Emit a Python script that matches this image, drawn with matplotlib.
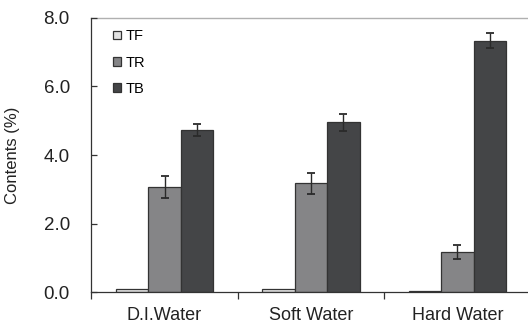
import matplotlib
matplotlib.use('Agg')
import matplotlib.pyplot as plt
import numpy as np

plt.rcParams['font.family'] = ['Liberation Sans', 'DejaVu Sans']

# Contents of each fraction by water type
categories = ['D.I.Water', 'Soft Water', 'Hard Water']
series = ['TF', 'TR', 'TB']
tf = [0.10, 0.10, 0.02]
tr = [3.06, 3.17, 1.17]
tb = [4.73, 4.95, 7.34]
tr_err = [0.32, 0.31, 0.19]
tb_err = [0.18, 0.25, 0.23]

colors = ['#e2e2e2', '#858587', '#444547']

fig = plt.figure(figsize=(5.28, 3.26), dpi=100)
ax = fig.add_axes([0.173, 0.104, 0.832, 0.841])

x = np.arange(len(categories))
w = 0.222
vals = [tf, tr, tb]
errs = [None, tr_err, tb_err]
for i, (name, v, e) in enumerate(zip(series, vals, errs)):
    ax.bar(x + (i - 1) * w, v, width=w, color=colors[i], edgecolor='#333333',
           linewidth=0.9, label=name, zorder=2)
    if e is not None:
        ax.errorbar(x + (i - 1) * w, v, yerr=e, fmt='none', ecolor='#2a2a2a',
                    elinewidth=1.0, capsize=3, capthick=1.3, zorder=3)

ax.set_xlim(-0.5, 2.5)
ax.set_ylim(0, 8)
ax.axhline(8, color='#b0b0b0', linewidth=1.0, zorder=1, clip_on=False)

ax.set_yticks([0, 2, 4, 6, 8])
ax.set_yticklabels(['0.0', '2.0', '4.0', '6.0', '8.0'])
ax.tick_params(axis='y', direction='in', length=4, width=0.9, pad=15.5,
               labelsize=13.5, colors='#333333', labelcolor='#222222')

ax.set_xticks([-0.5, 0.5, 1.5, 2.5])
ax.set_xticklabels([])
ax.set_xticks(x, minor=True)
ax.set_xticklabels(categories, minor=True)
ax.tick_params(axis='x', which='major', direction='out', length=5, width=0.9,
               colors='#333333')
ax.tick_params(axis='x', which='minor', length=0, pad=11, labelsize=13,
               labelcolor='#222222')

for s in ['top', 'right']:
    ax.spines[s].set_visible(False)
for s in ['left', 'bottom']:
    ax.spines[s].set_color('#333333')
    ax.spines[s].set_linewidth(0.9)

ax.set_ylabel('Contents (%)', fontsize=12, color='#222222')
ax.yaxis.set_label_coords(-0.162, 0.5)

ax.legend(loc='upper left', bbox_to_anchor=(0.035, 0.98), frameon=False,
          fontsize=10.5, handlelength=0.55, handleheight=0.55,
          handletextpad=0.35, labelspacing=0.85, borderaxespad=0)

fig.savefig('out.png', dpi=100)
